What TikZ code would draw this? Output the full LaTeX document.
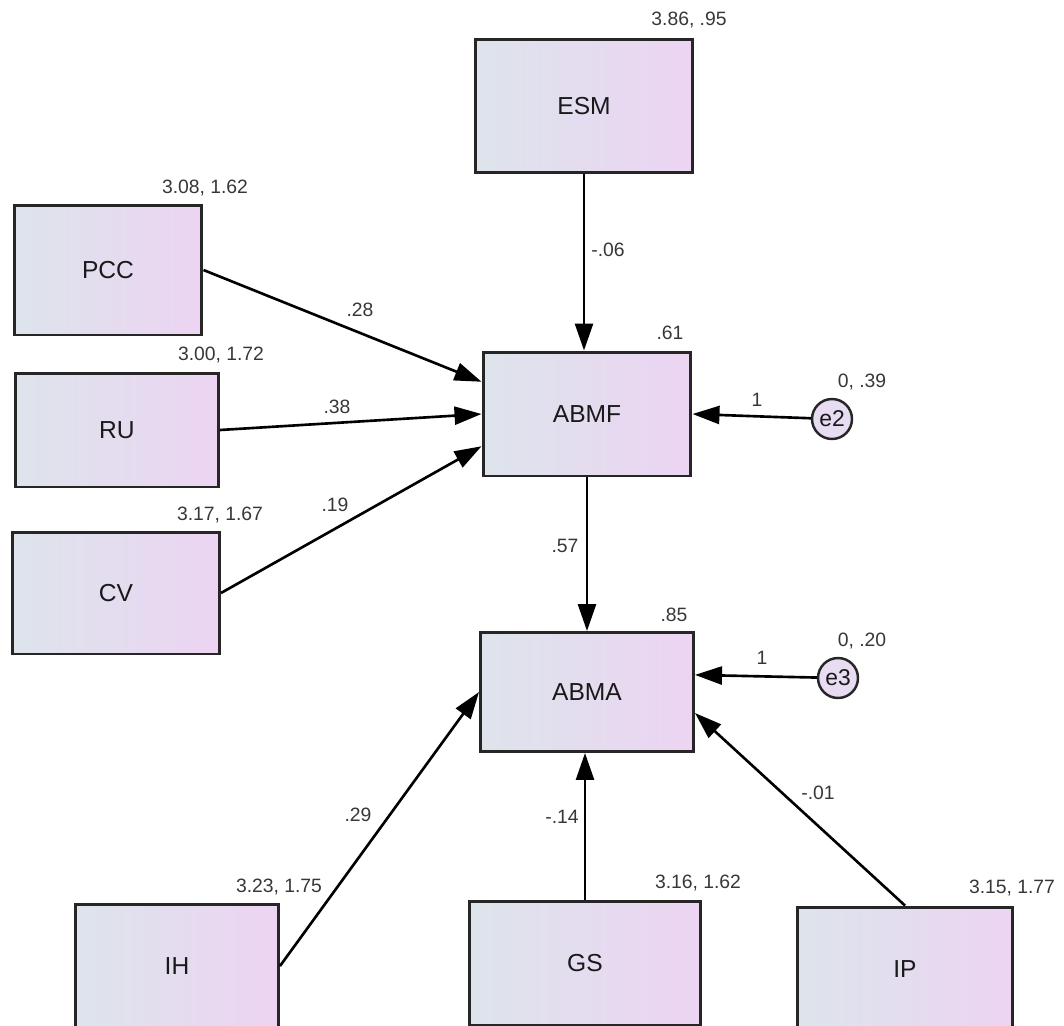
\documentclass[tikz,border=0pt]{standalone}
\usepackage{fontspec}
\setmainfont{Liberation Sans}
\usetikzlibrary{arrows.meta}

\definecolor{boxleft}{RGB}{221,228,236}
\definecolor{boxright}{RGB}{236,212,242}
\definecolor{errfill}{RGB}{232,220,242}
\definecolor{numgray}{RGB}{55,55,55}

\tikzset{
  varbox/.style={draw=black!85, line width=1.7pt, left color=boxleft, right color=boxright,
    inner sep=0pt, text=black!90, font=\fontsize{14}{16}\selectfont},
  errcirc/.style={circle, draw=black!85, line width=1.4pt, fill=errfill, minimum size=0.8cm,
    inner sep=0pt, text=black!90, font=\fontsize{13}{15}\selectfont},
  regpath/.style={line width=1.5pt, -{Triangle[length=0.54cm,width=0.36cm]}},
  est/.style={font=\fontsize{11}{13}\selectfont, text=numgray},
}

\begin{document}
\begin{tikzpicture}[x=0.02cm, y=-0.02cm]

\useasboundingbox (0,0) rectangle (1064,1025);
\clip (0,0) rectangle (1064,1025);

% observed variables
\node[varbox, minimum width=4.34cm, minimum height=2.68cm] (esm) at (584,106) {ESM};
\node[varbox, minimum width=3.76cm, minimum height=2.60cm] (pcc) at (108,270) {PCC};
\node[varbox, minimum width=4.06cm, minimum height=2.28cm] (ru) at (117,430) {RU};
\node[varbox, minimum width=4.14cm, minimum height=2.44cm] (cv) at (116,593) {CV};
\node[varbox, minimum width=4.16cm, minimum height=2.48cm] (abmf) at (587,414) {ABMF};
\node[varbox, minimum width=4.26cm, minimum height=2.38cm] (abma) at (587,692) {ABMA};
\node[varbox, minimum width=4.06cm, minimum height=2.48cm] (ih) at (177,966) {IH};
\node[varbox, minimum width=4.62cm, minimum height=2.48cm] (gs) at (585,963) {GS};
\node[varbox, minimum width=4.30cm, minimum height=2.48cm] (ip) at (905,969) {IP};

% errors
\node[errcirc] (e2) at (832,419) {e2};
\node[errcirc] (e3) at (838,678) {e3};

% paths
\draw[regpath] (esm.south) -- (esm.south |- abmf.north);
\draw[regpath] (pcc.east) -- (abmf.163);
\draw[regpath] (ru.east) -- (abmf.west);
\draw[regpath] (cv.east) -- (abmf.197);
\draw[regpath] (e2) -- (abmf.east);
\draw[regpath] (abmf.south) -- (abma.north);
\draw[regpath] (e3) -- (abma.9);
\draw[regpath] (ih.east) -- (abma.west);
\draw[regpath] (gs.north) -- (gs.north |- abma.south);
\draw[regpath] (ip.north) -- (abma.-11);

% means, variances
\node[est] (esmest) at (689,20) {3.86, .95};
\node[est] (pccest) at (205,188) {3.08, 1.62};
\node[est] (ruest) at (221,355) {3.00, 1.72};
\node[est] (cvest) at (220,515) {3.17, 1.67};
\node[est] (ihest) at (279,887) {3.23, 1.75};
\node[est] (gsest) at (698,883) {3.16, 1.62};
\node[est] (ipest) at (1012,888) {3.15, 1.77};
\node[est] (e2est) at (862,382) {0, .39};
\node[est] (e3est) at (862,641) {0, .20};

% squared multiple correlations
\node[est] (abmfr2) at (670,333) {.61};
\node[est] (abmar2) at (674,615) {.85};

% weights
\node[est] (wesm) at (608,250) {-.06};
\node[est] (wpcc) at (360,310) {.28};
\node[est] (wru) at (337,407) {.38};
\node[est] (wcv) at (335,505) {.19};
\node[est] (we2) at (757,400) {1};
\node[est] (wabmf) at (565,546) {.57};
\node[est] (we3) at (762,658) {1};
\node[est] (wih) at (358,815) {.29};
\node[est] (wgs) at (562,817) {-.14};
\node[est] (wip) at (818,793) {-.01};

\end{tikzpicture}
\end{document}
